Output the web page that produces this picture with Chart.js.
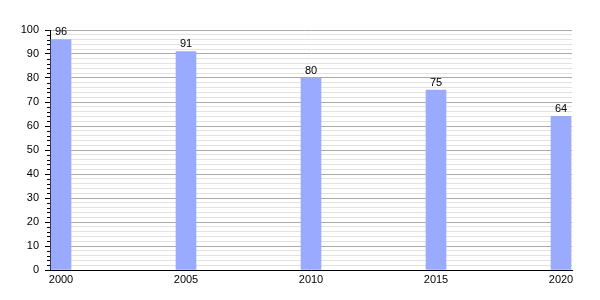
<!DOCTYPE html>
<html>
<head>
<meta charset="utf-8">
<script src="https://cdn.jsdelivr.net/npm/chart.js@4"></script>
<style>
  html, body { margin: 0; padding: 0; background: #fff; }
  #wrap { width: 600px; height: 300px; }
</style>
</head>
<body>
<div id="wrap"><canvas id="chart" width="600" height="300"></canvas></div>
<script>
// Daten
const years = [2000, 2005, 2010, 2015, 2020];
const values = [96, 91, 80, 75, 64];
const yMin = 0;
const yMax = 100;

Chart.defaults.font.family = "'Liberation Sans', Arial, sans-serif";
Chart.defaults.font.size = 11;
Chart.defaults.color = "#000";

// Werte über den Balken
const valueLabels = {
  id: "valueLabels",
  afterDatasetsDraw(chart) {
    const ctx = chart.ctx;
    const meta = chart.getDatasetMeta(0);
    ctx.save();
    ctx.font = "11px 'Liberation Sans', Arial, sans-serif";
    ctx.fillStyle = "#000";
    ctx.textAlign = "center";
    ctx.textBaseline = "bottom";
    meta.data.forEach((bar, i) => {
      ctx.fillText(String(values[i]), bar.x, bar.y - 2);
    });
    ctx.restore();
  }
};

// kurze Nebenstriche an der y-Achse
const minorTicks = {
  id: "minorTicks",
  afterDraw(chart) {
    const y = chart.scales.y;
    const ctx = chart.ctx;
    const x0 = y.right;
    ctx.save();
    ctx.strokeStyle = "#000";
    ctx.lineWidth = 1;
    y.ticks.forEach(t => {
      if (t.value % 10 === 0) return;
      const py = Math.round(y.getPixelForValue(t.value)) + 0.5;
      ctx.beginPath();
      ctx.moveTo(x0 - 3, py);
      ctx.lineTo(x0, py);
      ctx.stroke();
    });
    ctx.restore();
  }
};

new Chart(document.getElementById("chart").getContext("2d"), {
  type: "bar",
  data: {
    datasets: [{
      data: years.map((yr, i) => ({ x: yr, y: values[i] })),
      backgroundColor: "#99aaff",
      borderWidth: 0,
      barThickness: 20
    }]
  },
  options: {
    responsive: false,
    animation: false,
    layout: { padding: { top: 30, right: 28, left: 0, bottom: 0 } },
    plugins: {
      legend: { display: false },
      tooltip: { enabled: false }
    },
    scales: {
      x: {
        type: "linear",
        offset: false,
        min: 1999.56,
        max: 2020.44,
        afterBuildTicks: (s) => { s.ticks = years.map(v => ({ value: v })); },
        afterFit: (s) => { s.height = 30; },
        ticks: {
          padding: 3,
          callback: (v) => String(v)
        },
        grid: { display: false, drawTicks: false },
        border: { display: true, color: "#000", width: 1 }
      },
      y: {
        min: yMin,
        max: yMax,
        afterFit: (s) => { s.width = 50; },
        ticks: {
          stepSize: 2,
          padding: 6,
          autoSkip: false,
          callback: (v) => (v % 10 === 0 ? String(v) : "")
        },
        grid: {
          color: (c) => c.tick && c.tick.value % 10 === 0 ? "#aaaaaa" : "#e2e2e2",
          lineWidth: 1,
          tickLength: 5,
          tickColor: (c) => c.tick && c.tick.value % 10 === 0 ? "#000" : "rgba(0,0,0,0)"
        },
        border: { display: true, color: "#000", width: 1 }
      }
    }
  },
  plugins: [valueLabels, minorTicks]
});
</script>
</body>
</html>
